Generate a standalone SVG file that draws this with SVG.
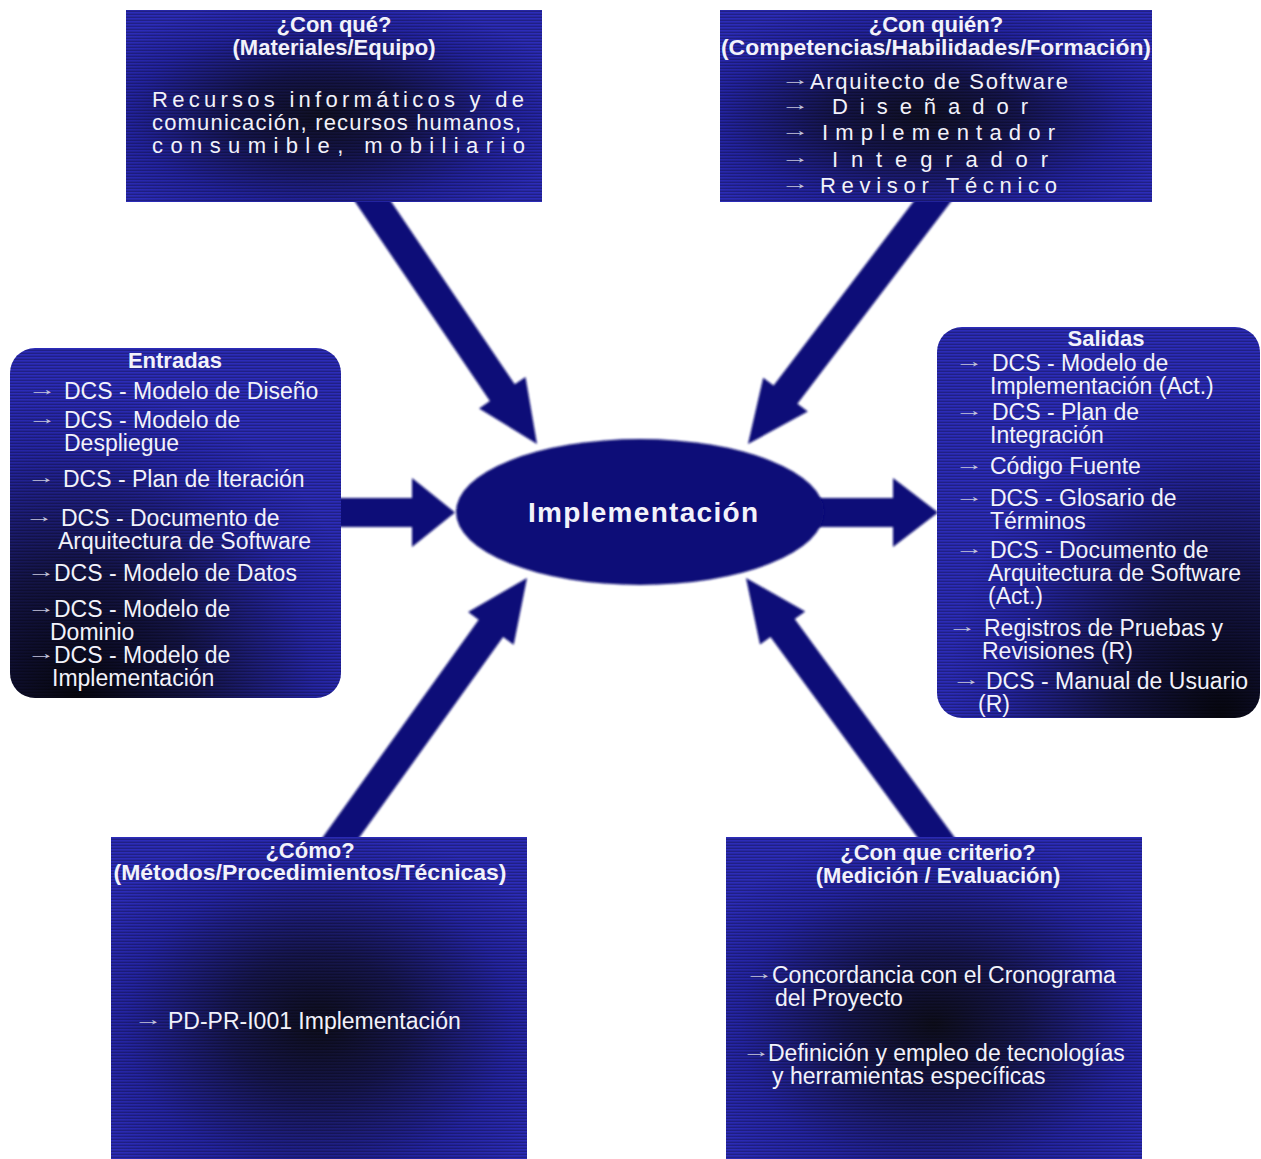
<svg xmlns="http://www.w3.org/2000/svg" width="1261" height="1159" viewBox="0 0 1261 1159">
  <style>
    .t { font-family: "Liberation Sans", Arial, sans-serif; fill: #f2f2fa; }
    .title { font-weight: bold; font-size: 22px; text-anchor: middle; }
    .item { font-size: 23px; }
    .spaced { font-size: 22px; }
    .bul { font-family: "Liberation Sans", "DejaVu Sans", sans-serif; font-size: 17px; fill: #c4c4dc; }
    .arrow { fill: #0c0c78; filter: url(#soft); }
    .scan { fill: url(#scanlines); }
  </style>
  <defs>
    <filter id="soft" x="-5%" y="-5%" width="110%" height="110%">
      <feGaussianBlur stdDeviation="1.1"/>
    </filter>
    <pattern id="scanlines" width="6" height="3" patternUnits="userSpaceOnUse">
      <rect x="0" y="1.6" width="6" height="1.4" fill="#000" fill-opacity="0.28"/>
    </pattern>
    <radialGradient id="gTop" cx="0.47" cy="0.55" r="0.62">
      <stop offset="0" stop-color="#101024"/>
      <stop offset="0.35" stop-color="#15154e"/>
      <stop offset="0.75" stop-color="#2323a0"/>
      <stop offset="1" stop-color="#2c2cb8"/>
    </radialGradient>
    <radialGradient id="gBottom" cx="0.5" cy="0.58" r="0.62">
      <stop offset="0" stop-color="#0e0e1c"/>
      <stop offset="0.35" stop-color="#16164e"/>
      <stop offset="0.75" stop-color="#2424a2"/>
      <stop offset="1" stop-color="#2c2cb8"/>
    </radialGradient>
    <radialGradient id="gLeft" cx="0.2" cy="1.0" r="0.9">
      <stop offset="0" stop-color="#07070f"/>
      <stop offset="0.4" stop-color="#141446"/>
      <stop offset="0.8" stop-color="#2525a4"/>
      <stop offset="1" stop-color="#2c2cb8"/>
    </radialGradient>
    <radialGradient id="gRight" cx="0.88" cy="1.0" r="0.85">
      <stop offset="0" stop-color="#07070f"/>
      <stop offset="0.4" stop-color="#141446"/>
      <stop offset="0.8" stop-color="#2525a4"/>
      <stop offset="1" stop-color="#2c2cb8"/>
    </radialGradient>
  </defs>

  <rect width="1261" height="1159" fill="#ffffff"/>

  <!-- thick arrows pointing into / out of the process -->
  <g id="connectors">
    <polygon class="arrow" points="353.8,199.9 489.9,401.1 479.1,408.4 537,444 525.5,377 514.7,384.3 378.6,183.1"/>
    <polygon class="arrow" points="956.5,194.4 797.4,403.7 807.8,411.5 748,444 763.2,377.7 773.6,385.5 932.7,176.2"/>
    <polygon class="arrow" points="341,863.1 503.1,637.1 513.7,644.7 527,578 468.1,612.1 478.7,619.7 316.6,845.7"/>
    <polygon class="arrow" points="962,847.5 794.7,619.1 805.2,611.5 746,578 760,644.5 770.5,636.9 937.8,865.3"/>
    <polygon class="arrow" points="330,498 412,498 412,478 455,512.5 412,547 412,527 330,527"/>
    <polygon class="arrow" points="815,498 893,498 893,478 938,512.5 893,547 893,527 815,527"/>
  </g>

  <g id="node-center">
    <ellipse cx="640" cy="512" rx="184" ry="73" fill="#0c0c78" filter="url(#soft)"/>
    <text class="t" x="643" y="522" font-size="28" font-weight="bold" text-anchor="middle" textLength="230" lengthAdjust="spacing">Implementación</text>
  </g>

  <g id="node-con-que">
    <rect x="126" y="10" width="416" height="192" fill="url(#gTop)"/>
    <rect class="scan" x="126" y="10" width="416" height="192"/>
    <text class="t title" x="334" y="32">¿Con qué?</text>
    <text class="t title" x="334" y="55">(Materiales/Equipo)</text>
    <text class="t spaced" x="152" y="107" textLength="372" lengthAdjust="spacing">Recursos informáticos y de</text>
    <text class="t spaced" x="152" y="130" textLength="369" lengthAdjust="spacing">comunicación, recursos humanos,</text>
    <text class="t spaced" x="152" y="153" textLength="373" lengthAdjust="spacing">consumible, mobiliario</text>
  </g>

  <!-- list bullets are short arrows, stretched sideways -->
  <g id="node-con-quien">
    <rect x="720" y="10" width="432" height="192" fill="url(#gTop)"/>
    <rect class="scan" x="720" y="10" width="432" height="192"/>
    <text class="t title" x="936" y="32">¿Con quién?</text>
    <text class="t title" x="936" y="55" textLength="430" lengthAdjust="spacingAndGlyphs">(Competencias/Habilidades/Formación)</text>
    <text class="bul" transform="translate(781 85) scale(1.7 1)">→</text>
    <text class="t spaced" x="810" y="89" textLength="258" lengthAdjust="spacing">Arquitecto de Software</text>
    <text class="bul" transform="translate(781 110) scale(1.7 1)">→</text>
    <text class="t spaced" x="832" y="114" textLength="196" lengthAdjust="spacing">Diseñador</text>
    <text class="bul" transform="translate(781 136) scale(1.7 1)">→</text>
    <text class="t spaced" x="822" y="140" textLength="233" lengthAdjust="spacing">Implementador</text>
    <text class="bul" transform="translate(781 163) scale(1.7 1)">→</text>
    <text class="t spaced" x="832" y="167" textLength="216" lengthAdjust="spacing">Integrador</text>
    <text class="bul" transform="translate(781 189) scale(1.7 1)">→</text>
    <text class="t spaced" x="820" y="193" textLength="237" lengthAdjust="spacing">Revisor Técnico</text>
  </g>

  <g id="node-entradas">
    <rect x="10" y="348" width="331" height="350" rx="25" fill="url(#gLeft)"/>
    <rect class="scan" x="10" y="348" width="331" height="350" rx="25"/>
    <text class="t title" x="175" y="368">Entradas</text>
    <text class="bul" transform="translate(28 395) scale(1.7 1)">→</text>
    <text class="t item" x="64" y="399">DCS - Modelo de Diseño</text>
    <text class="bul" transform="translate(28 424) scale(1.7 1)">→</text>
    <text class="t item" x="64" y="428">DCS - Modelo de</text>
    <text class="t item" x="64" y="451">Despliegue</text>
    <text class="bul" transform="translate(27 483) scale(1.7 1)">→</text>
    <text class="t item" x="63" y="487">DCS - Plan de Iteración</text>
    <text class="bul" transform="translate(25 522) scale(1.7 1)">→</text>
    <text class="t item" x="61" y="526">DCS - Documento de</text>
    <text class="t item" x="58" y="549">Arquitectura de Software</text>
    <text class="bul" transform="translate(27 577) scale(1.7 1)">→</text>
    <text class="t item" x="54" y="581">DCS - Modelo de Datos</text>
    <text class="bul" transform="translate(27 613) scale(1.7 1)">→</text>
    <text class="t item" x="54" y="617">DCS - Modelo de</text>
    <text class="t item" x="50" y="640">Dominio</text>
    <text class="bul" transform="translate(27 659) scale(1.7 1)">→</text>
    <text class="t item" x="54" y="663">DCS - Modelo de</text>
    <text class="t item" x="52" y="686">Implementación</text>
  </g>

  <g id="node-salidas">
    <rect x="937" y="327" width="323" height="391" rx="25" fill="url(#gRight)"/>
    <rect class="scan" x="937" y="327" width="323" height="391" rx="25"/>
    <text class="t title" x="1106" y="346">Salidas</text>
    <text class="bul" transform="translate(955 367) scale(1.7 1)">→</text>
    <text class="t item" x="992" y="371">DCS - Modelo de</text>
    <text class="t item" x="990" y="394">Implementación (Act.)</text>
    <text class="bul" transform="translate(955 416) scale(1.7 1)">→</text>
    <text class="t item" x="992" y="420">DCS - Plan de</text>
    <text class="t item" x="990" y="443">Integración</text>
    <text class="bul" transform="translate(955 470) scale(1.7 1)">→</text>
    <text class="t item" x="990" y="474">Código Fuente</text>
    <text class="bul" transform="translate(955 502) scale(1.7 1)">→</text>
    <text class="t item" x="990" y="506">DCS - Glosario de</text>
    <text class="t item" x="990" y="529">Términos</text>
    <text class="bul" transform="translate(955 554) scale(1.7 1)">→</text>
    <text class="t item" x="990" y="558">DCS - Documento de</text>
    <text class="t item" x="988" y="581">Arquitectura de Software</text>
    <text class="t item" x="988" y="604">(Act.)</text>
    <text class="bul" transform="translate(948 632) scale(1.7 1)">→</text>
    <text class="t item" x="984" y="636">Registros de Pruebas y</text>
    <text class="t item" x="982" y="659">Revisiones (R)</text>
    <text class="bul" transform="translate(952 685) scale(1.7 1)">→</text>
    <text class="t item" x="986" y="689">DCS - Manual de Usuario</text>
    <text class="t item" x="978" y="712">(R)</text>
  </g>

  <g id="node-como">
    <rect x="111" y="837" width="416" height="322" fill="url(#gBottom)"/>
    <rect class="scan" x="111" y="837" width="416" height="322"/>
    <text class="t title" x="310" y="858">¿Cómo?</text>
    <text class="t title" x="310" y="880" textLength="393" lengthAdjust="spacingAndGlyphs">(Métodos/Procedimientos/Técnicas)</text>
    <text class="bul" transform="translate(134 1025) scale(1.7 1)">→</text>
    <text class="t item" x="168" y="1029">PD-PR-I001 Implementación</text>
  </g>

  <g id="node-criterio">
    <rect x="726" y="837" width="416" height="322" fill="url(#gBottom)"/>
    <rect class="scan" x="726" y="837" width="416" height="322"/>
    <text class="t title" x="938" y="860">¿Con que criterio?</text>
    <text class="t title" x="938" y="883">(Medición / Evaluación)</text>
    <text class="bul" transform="translate(745 979) scale(1.7 1)">→</text>
    <text class="t item" x="772" y="983">Concordancia con el Cronograma</text>
    <text class="t item" x="775" y="1006">del Proyecto</text>
    <text class="bul" transform="translate(742 1057) scale(1.7 1)">→</text>
    <text class="t item" x="768" y="1061">Definición y empleo de tecnologías</text>
    <text class="t item" x="772" y="1084">y herramientas específicas</text>
  </g>
</svg>
